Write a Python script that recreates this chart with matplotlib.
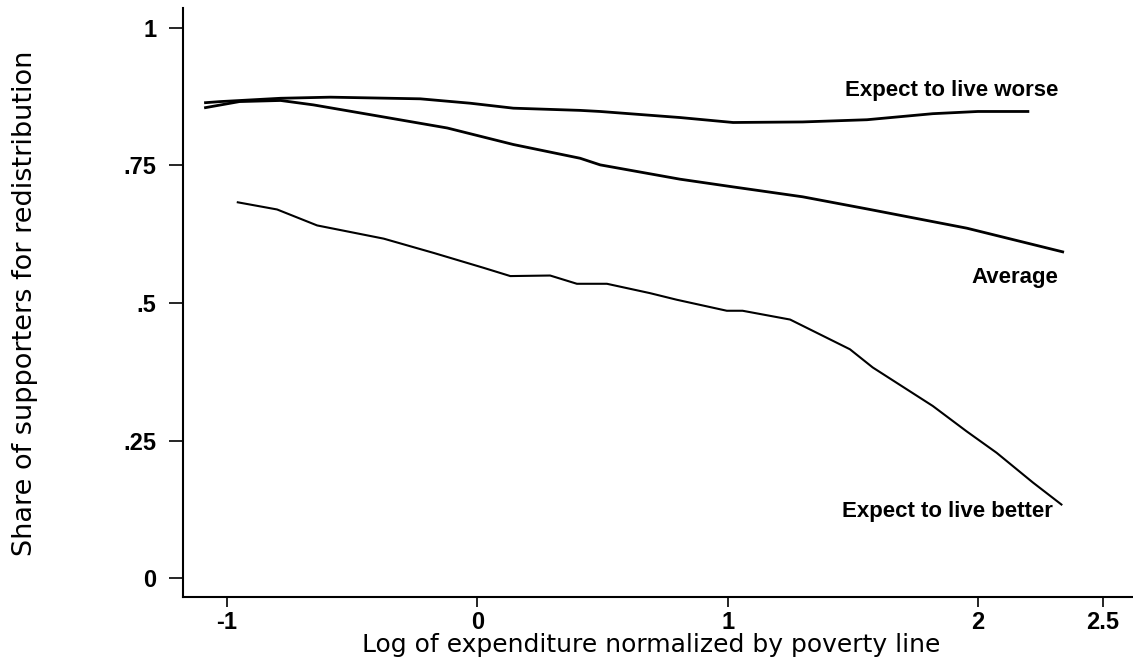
import matplotlib
matplotlib.use("Agg")
import matplotlib.pyplot as plt

# Lowess-type curves
worse_x = [-1.086, -1.026, -0.786, -0.587, -0.228, -0.028, 0.144, 0.411, 0.491, 0.81, 1.022, 1.3, 1.557, 1.82, 2.0, 2.2]
worse_y = [0.864, 0.866, 0.872, 0.874, 0.871, 0.863, 0.854, 0.850, 0.848, 0.837, 0.828, 0.829, 0.833, 0.844, 0.848, 0.848]

avg_x = [-1.086, -0.95, -0.786, -0.655, -0.387, -0.12, 0.144, 0.411, 0.491, 0.81, 1.022, 1.3, 1.557, 1.956, 2.339]
avg_y = [0.855, 0.866, 0.868, 0.860, 0.839, 0.818, 0.788, 0.763, 0.751, 0.725, 0.711, 0.693, 0.671, 0.636, 0.593]

better_x = [-0.957, -0.8, -0.64, -0.374, -0.174, 0.025, 0.132, 0.291, 0.398, 0.518, 0.69, 0.797, 0.997, 1.06,
            1.25, 1.489, 1.58, 1.82, 1.955, 2.075, 2.22, 2.334]
better_y = [0.683, 0.670, 0.641, 0.617, 0.591, 0.564, 0.549, 0.550, 0.535, 0.535, 0.518, 0.506, 0.486, 0.486,
            0.470, 0.416, 0.383, 0.313, 0.267, 0.228, 0.174, 0.134]

labels = ["Expect to live worse", "Average", "Expect to live better"]
label_x = [2.32, 2.32, 2.30]
label_y = [0.886, 0.546, 0.122]

yticks = [0, 0.25, 0.5, 0.75, 1]
ytick_labels = ["0", ".25", ".5", ".75", "1"]
xticks = [-1, 0, 1, 2, 2.5]
xtick_labels = ["-1", "0", "1", "2", "2.5"]

plt.rcParams["font.family"] = ["Liberation Sans", "DejaVu Sans"]

fig = plt.figure(figsize=(11.33, 6.66), dpi=100)
ax = fig.add_axes([0.1615, 0.1036, 0.8385, 0.8844])

ax.plot(worse_x, worse_y, color="black", lw=2.0)
ax.plot(avg_x, avg_y, color="black", lw=2.0)
ax.plot(better_x, better_y, color="black", lw=1.5)

for t, x, y in zip(labels, label_x, label_y):
    ax.text(x, y, t, ha="right", va="center", fontsize=16, fontweight="bold")

ax.set_xlim(-1.176, 2.62)
ax.set_ylim(-0.034, 1.036)
ax.set_xticks(xticks)
ax.set_xticklabels(xtick_labels)
ax.set_yticks(yticks)
ax.set_yticklabels(ytick_labels)
ax.tick_params(axis="x", direction="out", length=7, width=1.2, labelsize=17, pad=3)
ax.tick_params(axis="y", direction="out", length=10, width=1.2, labelsize=17, pad=9)
for lab in ax.get_xticklabels() + ax.get_yticklabels():
    lab.set_fontweight("bold")

ax.spines["top"].set_visible(False)
ax.spines["right"].set_visible(False)
ax.spines["left"].set_linewidth(1.5)
ax.spines["bottom"].set_linewidth(1.5)

fig.text(0.575, 0.021, "Log of expenditure normalized by poverty line", ha="center", va="baseline",
         fontsize=18, family="DejaVu Sans")
fig.text(0.022, 0.544, "Share of supporters for redistribution", ha="center", va="center",
         rotation=90, fontsize=19.5, family="DejaVu Sans")

fig.savefig("out.png", dpi=100)
